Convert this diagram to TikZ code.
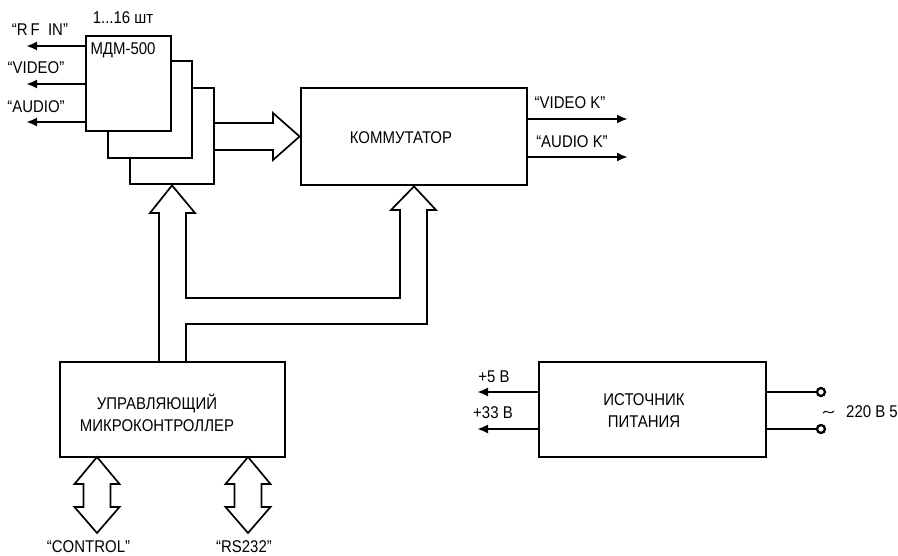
\documentclass[tikz,border=0pt]{standalone}
\usepackage{fontspec}
\setmainfont{Liberation Sans}[FakeStretch=0.88]
\usetikzlibrary{arrows.meta,calc}
\begin{document}
\begin{tikzpicture}[x=1pt,y=-1pt,
  box/.style={draw, line width=2.8pt, fill=white, inner sep=0pt},
  bus/.style={line width=1.7pt, line join=miter},
  sig/.style={line width=2.3pt, -{Latex[length=11pt,width=9pt]}},
  lbl/.style={inner sep=0pt, font=\fontsize{17}{22}\selectfont, align=center},
  term/.style={circle, draw, line width=2.3pt, fill=white, inner sep=0pt, minimum size=8pt}]
\useasboundingbox (0,0) rectangle (898,555);

% MDM-500 stack
\node[box, minimum width=84pt, minimum height=96pt] (m3) at (172,136) {};
\node[box, minimum width=84pt, minimum height=97pt] (m2) at (150,109.5) {};
\node[box, minimum width=85pt, minimum height=95pt] (m1) at (128.5,83.5) {};
\node[lbl] (mdm) at (123,50) {МДМ-500};
\node[lbl] (qty) at (123,18) {1...16 шт};

% commutator
\node[box, minimum width=226pt, minimum height=97pt] (k) at (414,136.5) {};
\node[lbl] (kt) at (401,138) {КОММУТАТОР};

% microcontroller
\node[box, minimum width=225pt, minimum height=95pt] (mc) at (172.5,409.5) {};
\node[lbl] (mct) at (157,412.5) {УПРАВЛЯЮЩИЙ\\МИКРОКОНТРОЛЛЕР};

% power supply
\node[box, minimum width=227pt, minimum height=95pt] (ps) at (652.5,409.5) {};
\node[lbl] (pst) at (644,411) {ИСТОЧНИК\\ПИТАНИЯ};

% left outputs of MDM
\coordinate (rf) at (26,46);
\coordinate (vd) at (26,84);
\coordinate (au) at (26,122);
\draw[sig] (m1.west |- rf) -- (rf);
\draw[sig] (m1.west |- vd) -- (vd);
\draw[sig] (m1.west |- au) -- (au);
\node[lbl] (rft) at (40,30) {“R\,F\ \ IN”};
\node[lbl] (vdt) at (36,68) {“VIDEO”};
\node[lbl] (aut) at (36,107) {“AUDIO”};

% commutator outputs
\coordinate (vk) at (628,119);
\coordinate (ak) at (628,157);
\draw[sig] (k.east |- vk) -- (vk);
\draw[sig] (k.east |- ak) -- (ak);
\node[lbl] (vkt) at (570,103) {“VIDEO K”};
\node[lbl] (akt) at (572,142) {“AUDIO K”};

% horizontal bus MDM -> commutator
\draw[bus] (214,123) -- (273,123) -- (273,113) -- (k.west |- 0,136.5) -- (273,160) -- (273,150) -- (214,150);

% vertical buses from microcontroller
\draw[bus] (159,362) -- (159,213) -- (150,213) -- (m3.south) -- (195,213) -- (186,213)
  -- (186,298) -- (400,298) -- (400,210) -- (391,210) -- (k.south) -- (436,210) -- (427,210)
  -- (427,324) -- (186,324) -- (186,362);

% bidirectional buses below microcontroller
\draw[bus] (97,457) -- (119.5,484) -- (110.5,484) -- (110.5,507) -- (119.5,507) -- (97,533)
  -- (74.5,507) -- (83.5,507) -- (83.5,484) -- (74.5,484) -- cycle;
\draw[bus] (248,457) -- (270.5,484) -- (261.5,484) -- (261.5,507) -- (270.5,507) -- (248,533)
  -- (225.5,507) -- (234.5,507) -- (234.5,484) -- (225.5,484) -- cycle;
\node[lbl] (ctl) at (88.5,547) {“CONTROL”};
\node[lbl] (rs) at (244,547) {“RS232”};

% power outputs
\coordinate (p5) at (477,392);
\coordinate (p33) at (477,429);
\draw[sig] (ps.west |- p5) -- (p5);
\draw[sig] (ps.west |- p33) -- (p33);
\node[lbl] (p5t) at (494,377) {+5 В};
\node[lbl] (p33t) at (493,413) {+33 В};

% mains terminals
\node[term] (t1) at (821,392) {};
\node[term] (t2) at (821,429) {};
\draw[line width=2.3pt] (ps.east |- t1) -- (t1.west);
\draw[line width=2.3pt] (ps.east |- t2) -- (t2.west);
\coordinate (tl) at (823,413);
\draw[line width=1pt] (tl) .. controls (826,408) and (829,416) .. (834,411);
\node[lbl, anchor=west] (mains) at (846,412) {220 В 5};
\end{tikzpicture}
\end{document}
